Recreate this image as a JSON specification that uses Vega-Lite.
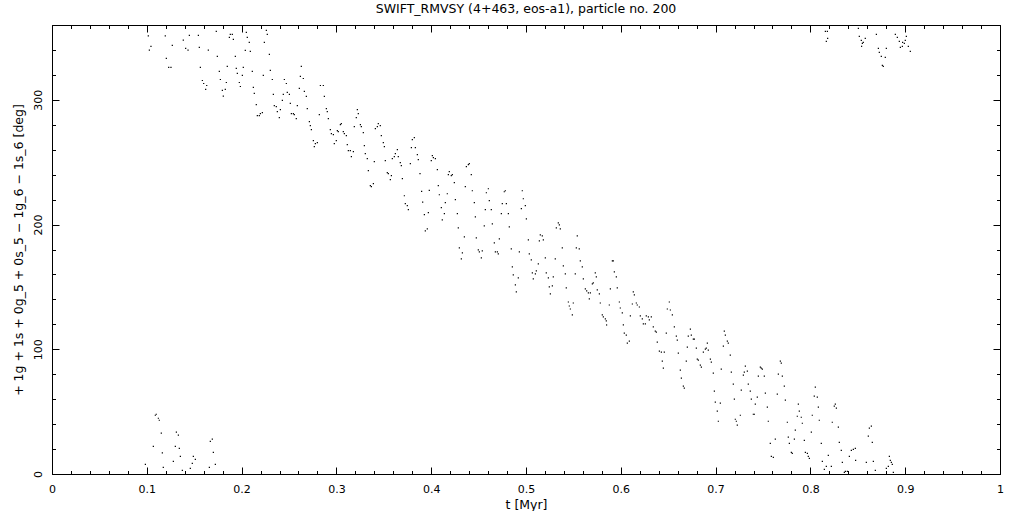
{
  "$schema": "https://vega.github.io/schema/vega-lite/v6.json",
  "autosize": {"type": "none"},
  "padding": {"left": 52, "top": 25, "right": 21, "bottom": 37},
  "width": 948,
  "height": 449,
  "background": "white",
  "title": {"text": "SWIFT_RMVSY (4+463, eos-a1), particle no. 200", "anchor": "middle", "offset": 9, "font": "DejaVu Sans", "fontSize": 12.5, "fontWeight": "normal", "color": "black"},
  "config": {
    "view": {"stroke": "black", "strokeWidth": 1},
    "axis": {"grid": false, "domainColor": "black", "tickColor": "black", "labelColor": "black", "titleColor": "black", "labelFont": "DejaVu Sans", "titleFont": "DejaVu Sans", "labelFontSize": 11, "titleFontSize": 12.5, "titleFontWeight": "normal", "labelFlush": false, "labelOverlap": false, "labelBound": false}
  },
  "data": {"values": [
    {"t":0.1016,"v":351.2},{"t":0.1044,"v":342.9},{"t":0.1027,"v":339.9},{"t":0.1195,"v":351.2},{"t":0.1206,"v":333.2},{"t":0.1231,"v":326.0},{"t":0.1255,"v":326.0},{"t":0.1269,"v":343.7},{"t":0.1385,"v":347.9},{"t":0.1410,"v":341.2},{"t":0.1435,"v":339.9},{"t":0.1449,"v":351.7},{"t":0.1544,"v":351.7},{"t":0.1554,"v":342.1},{"t":0.1565,"v":326.0},{"t":0.1586,"v":315.5},{"t":0.1600,"v":313.1},{"t":0.1621,"v":308.3},{"t":0.1632,"v":311.5},{"t":0.1649,"v":339.9},{"t":0.1733,"v":354.9},{"t":0.1744,"v":334.8},{"t":0.1765,"v":322.8},{"t":0.1776,"v":316.3},{"t":0.1797,"v":307.5},{"t":0.1807,"v":302.9},{"t":0.1828,"v":308.3},{"t":0.1839,"v":313.9},{"t":0.1849,"v":326.8},{"t":0.1871,"v":350.1},{"t":0.1881,"v":352.5},{"t":0.1902,"v":352.5},{"t":0.1913,"v":348.5},{"t":0.1934,"v":334.8},{"t":0.1944,"v":325.2},{"t":0.1955,"v":321.2},{"t":0.1976,"v":313.9},{"t":0.1987,"v":310.7},{"t":0.2008,"v":319.6},{"t":0.2018,"v":326.0},{"t":0.2050,"v":354.1},{"t":0.2060,"v":350.1},{"t":0.2081,"v":346.1},{"t":0.2039,"v":339.6},{"t":0.2092,"v":338.8},{"t":0.2113,"v":322.8},{"t":0.2124,"v":309.9},{"t":0.2134,"v":305.1},
    {"t":0.1090,"v":47.1},{"t":0.1100,"v":47.9},{"t":0.1122,"v":44.7},{"t":0.1132,"v":43.1},{"t":0.1153,"v":32.7},{"t":0.1069,"v":22.2},{"t":0.1164,"v":16.9},{"t":0.0985,"v":7.8},{"t":0.1174,"v":5.4},{"t":0.1312,"v":33.5},{"t":0.1333,"v":31.1},{"t":0.1301,"v":22.2},{"t":0.1343,"v":20.6},{"t":0.1280,"v":10.2},{"t":0.1354,"v":14.2},{"t":0.1375,"v":2.9},{"t":0.1459,"v":4.6},{"t":0.1480,"v":8.6},{"t":0.1491,"v":14.2},{"t":0.1512,"v":11.8},{"t":0.1670,"v":26.2},{"t":0.1691,"v":27.9},{"t":0.1702,"v":17.4},{"t":0.1660,"v":5.4},{"t":0.1723,"v":7.8},
    {"t":0.2261,"v":355.7},{"t":0.2271,"v":352.5},{"t":0.2240,"v":346.1},{"t":0.2293,"v":336.4},{"t":0.2303,"v":323.6},{"t":0.2229,"v":319.6},{"t":0.2324,"v":316.3},{"t":0.2335,"v":304.3},{"t":0.2155,"v":296.2},{"t":0.2166,"v":287.4},{"t":0.2187,"v":287.4},{"t":0.2198,"v":289.0},{"t":0.2219,"v":289.8},{"t":0.2345,"v":295.4},{"t":0.2366,"v":294.6},{"t":0.2377,"v":290.6},{"t":0.2409,"v":292.2},{"t":0.2398,"v":285.8},{"t":0.2430,"v":299.5},{"t":0.2440,"v":304.3},{"t":0.2451,"v":316.3},{"t":0.2472,"v":313.1},{"t":0.2482,"v":305.9},{"t":0.2504,"v":304.3},{"t":0.2514,"v":297.1},{"t":0.2525,"v":289.0},{"t":0.2546,"v":289.0},{"t":0.2556,"v":288.2},{"t":0.2577,"v":285.0},{"t":0.2588,"v":295.4},{"t":0.2609,"v":309.1},{"t":0.2620,"v":318.8},{"t":0.2630,"v":326.8},{"t":0.2651,"v":317.1},{"t":0.2662,"v":306.7},{"t":0.2683,"v":302.7},{"t":0.2693,"v":293.0},{"t":0.2715,"v":282.6},{"t":0.2725,"v":279.4},{"t":0.2736,"v":276.2},{"t":0.2757,"v":267.3},{"t":0.2767,"v":262.5},{"t":0.2778,"v":264.9},{"t":0.2799,"v":265.7},{"t":0.2820,"v":288.2},{"t":0.2831,"v":311.5},{"t":0.2862,"v":311.5},{"t":0.2873,"v":302.7},{"t":0.2894,"v":293.0},{"t":0.2904,"v":290.6},{"t":0.2915,"v":285.0},{"t":0.2936,"v":276.2},{"t":0.2947,"v":272.9},{"t":0.2968,"v":272.1},{"t":0.2978,"v":264.9},{"t":0.2999,"v":267.3},{"t":0.3010,"v":275.4},{"t":0.3020,"v":274.6},{"t":0.3042,"v":280.2},{"t":0.3052,"v":281.0},{"t":0.3073,"v":274.6},{"t":0.3084,"v":272.9},{"t":0.3105,"v":271.3},{"t":0.3115,"v":264.1},{"t":0.3126,"v":259.3},{"t":0.3147,"v":259.3},{"t":0.3158,"v":254.5},{"t":0.3179,"v":258.5},{"t":0.3189,"v":278.6},{"t":0.3210,"v":285.8},{"t":0.3221,"v":292.2},{"t":0.3231,"v":289.0},{"t":0.3253,"v":280.2},{"t":0.3263,"v":278.6},{"t":0.3284,"v":273.7},{"t":0.3295,"v":263.3},{"t":0.3305,"v":256.9},{"t":0.3326,"v":252.9},{"t":0.3337,"v":243.2},{"t":0.3358,"v":231.2},{"t":0.3369,"v":230.4},{"t":0.3390,"v":232.8},{"t":0.3400,"v":250.4},{"t":0.3411,"v":277.0},{"t":0.3432,"v":278.6},{"t":0.3442,"v":281.0},{"t":0.3463,"v":279.4},{"t":0.3474,"v":271.3},{"t":0.3495,"v":265.7},{"t":0.3506,"v":262.5},{"t":0.3516,"v":251.2},{"t":0.3537,"v":241.6},{"t":0.3548,"v":240.8},{"t":0.3569,"v":236.0},{"t":0.3580,"v":239.2},{"t":0.3590,"v":252.9},{"t":0.3611,"v":254.5},{"t":0.3622,"v":256.9},{"t":0.3643,"v":260.1},{"t":0.3653,"v":254.5},{"t":0.3674,"v":249.6},{"t":0.3685,"v":247.2},{"t":0.3696,"v":236.8},{"t":0.3717,"v":223.1},{"t":0.3727,"v":216.7},{"t":0.3748,"v":215.1},{"t":0.3759,"v":211.9},{"t":0.3780,"v":248.8},{"t":0.3791,"v":261.7},{"t":0.3801,"v":268.1},{"t":0.3822,"v":269.7},{"t":0.3833,"v":261.7},{"t":0.3854,"v":256.1},{"t":0.3864,"v":252.1},
    {"t":0.3882,"v":240.8},{"t":0.3899,"v":226.6},{"t":0.3910,"v":218.0},{"t":0.3928,"v":207.9},{"t":0.3938,"v":195.0},{"t":0.3959,"v":196.6},{"t":0.3970,"v":209.5},{"t":0.3980,"v":227.4},{"t":0.4001,"v":251.2},{"t":0.4012,"v":255.3},{"t":0.4023,"v":253.7},{"t":0.4044,"v":252.9},{"t":0.4065,"v":244.0},{"t":0.4075,"v":231.2},{"t":0.4086,"v":223.9},{"t":0.4107,"v":213.5},{"t":0.4117,"v":203.8},{"t":0.4139,"v":208.7},{"t":0.4149,"v":217.5},{"t":0.4170,"v":224.7},{"t":0.4181,"v":240.0},{"t":0.4191,"v":242.4},{"t":0.4212,"v":239.2},{"t":0.4223,"v":240.0},{"t":0.4244,"v":233.6},{"t":0.4255,"v":219.9},{"t":0.4276,"v":208.7},{"t":0.4286,"v":197.4},{"t":0.4297,"v":181.3},{"t":0.4318,"v":172.5},{"t":0.4329,"v":177.3},{"t":0.4350,"v":190.2},{"t":0.4360,"v":230.4},{"t":0.4371,"v":246.4},{"t":0.4392,"v":248.0},{"t":0.4402,"v":248.8},{"t":0.4423,"v":240.0},{"t":0.4434,"v":227.1},{"t":0.4455,"v":217.5},{"t":0.4466,"v":206.2},{"t":0.4476,"v":189.4},{"t":0.4497,"v":179.7},{"t":0.4508,"v":178.1},{"t":0.4529,"v":173.3},{"t":0.4539,"v":178.9},{"t":0.4560,"v":199.0},{"t":0.4571,"v":211.9},{"t":0.4582,"v":225.5},{"t":0.4603,"v":228.7},{"t":0.4613,"v":219.1},{"t":0.4634,"v":211.9},{"t":0.4645,"v":200.6},{"t":0.4666,"v":185.4},{"t":0.4677,"v":178.1},{"t":0.4698,"v":178.1},{"t":0.4708,"v":176.5},{"t":0.4719,"v":188.6},{"t":0.4740,"v":208.7},{"t":0.4750,"v":216.7},{"t":0.4771,"v":226.3},{"t":0.4782,"v":227.1},{"t":0.4793,"v":216.7},{"t":0.4814,"v":208.7},{"t":0.4824,"v":198.2},{"t":0.4845,"v":180.5},{"t":0.4856,"v":166.1},{"t":0.4866,"v":159.6},{"t":0.4888,"v":151.6},{"t":0.4898,"v":146.0},{"t":0.4919,"v":157.2},{"t":0.4930,"v":178.1},{"t":0.4951,"v":212.7},{"t":0.4961,"v":227.1},{"t":0.4972,"v":220.7},{"t":0.4993,"v":215.1},{"t":0.5004,"v":204.6},{"t":0.5025,"v":187.8},{"t":0.5035,"v":176.5},{"t":0.5056,"v":171.7},{"t":0.5067,"v":161.2},{"t":0.5077,"v":156.4},{"t":0.5099,"v":160.4},{"t":0.5109,"v":162.9},{"t":0.5130,"v":168.5},{"t":0.5141,"v":187.0},{"t":0.5151,"v":191.8},{"t":0.5172,"v":191.0},{"t":0.5183,"v":187.8},{"t":0.5204,"v":173.3},{"t":0.5214,"v":161.2},{"t":0.5236,"v":157.2},{"t":0.5246,"v":150.0},{"t":0.5257,"v":144.4},{"t":0.5278,"v":150.8},{"t":0.5288,"v":158.0},{"t":0.5309,"v":172.5},{"t":0.5320,"v":197.4},{"t":0.5341,"v":201.4},{"t":0.5352,"v":199.8},{"t":0.5362,"v":196.6},{"t":0.5383,"v":181.3},{"t":0.5394,"v":166.9},{"t":0.5415,"v":160.4},{"t":0.5425,"v":149.2},{"t":0.5447,"v":137.9},{"t":0.5457,"v":134.7},{"t":0.5468,"v":132.3},{"t":0.5489,"v":127.5},{"t":0.5499,"v":137.1},{"t":0.5520,"v":160.4},{"t":0.5531,"v":181.3},{"t":0.5541,"v":191.0},{"t":0.5562,"v":180.5},{"t":0.5573,"v":170.9},{"t":0.5594,"v":166.1},{"t":0.5605,"v":156.4},
    {"t":0.5626,"v":148.4},{"t":0.5640,"v":146.8},{"t":0.5658,"v":145.2},{"t":0.5668,"v":140.4},{"t":0.5679,"v":145.2},{"t":0.5700,"v":152.4},{"t":0.5710,"v":153.2},{"t":0.5731,"v":161.2},{"t":0.5742,"v":158.0},{"t":0.5752,"v":147.6},{"t":0.5774,"v":144.4},{"t":0.5784,"v":137.1},{"t":0.5805,"v":127.5},{"t":0.5816,"v":125.9},{"t":0.5837,"v":124.3},{"t":0.5847,"v":122.7},{"t":0.5850,"v":119.5},{"t":0.5879,"v":135.5},{"t":0.5890,"v":148.4},{"t":0.5911,"v":170.9},{"t":0.5921,"v":170.9},{"t":0.5932,"v":162.1},{"t":0.5953,"v":158.0},{"t":0.5963,"v":149.2},{"t":0.5985,"v":137.9},{"t":0.5995,"v":133.1},{"t":0.6016,"v":129.1},{"t":0.6027,"v":119.5},{"t":0.6037,"v":113.0},{"t":0.6058,"v":111.4},{"t":0.6069,"v":105.0},{"t":0.6090,"v":106.6},{"t":0.6101,"v":126.7},{"t":0.6122,"v":136.3},{"t":0.6132,"v":146.0},{"t":0.6143,"v":143.6},{"t":0.6164,"v":137.1},{"t":0.6174,"v":135.5},{"t":0.6196,"v":133.9},{"t":0.6206,"v":126.7},{"t":0.6227,"v":124.3},{"t":0.6238,"v":120.3},{"t":0.6259,"v":120.3},{"t":0.6269,"v":126.7},{"t":0.6291,"v":125.9},{"t":0.6301,"v":123.5},{"t":0.6322,"v":125.9},{"t":0.6343,"v":117.9},{"t":0.6364,"v":114.6},{"t":0.6375,"v":113.8},{"t":0.6385,"v":105.8},{"t":0.6407,"v":98.6},{"t":0.6428,"v":97.8},{"t":0.6438,"v":90.5},{"t":0.6449,"v":84.9},{"t":0.6459,"v":97.8},{"t":0.6480,"v":113.0},{"t":0.6491,"v":132.3},{"t":0.6512,"v":137.9},{"t":0.6523,"v":131.5},{"t":0.6544,"v":127.5},{"t":0.6565,"v":117.9},{"t":0.6586,"v":110.6},{"t":0.6596,"v":107.4},{"t":0.6607,"v":97.0},{"t":0.6628,"v":83.3},{"t":0.6639,"v":76.9},{"t":0.6660,"v":70.4},{"t":0.6670,"v":68.8},{"t":0.6691,"v":90.5},{"t":0.6702,"v":101.8},{"t":0.6712,"v":110.6},{"t":0.6734,"v":116.2},{"t":0.6744,"v":111.4},{"t":0.6765,"v":108.2},{"t":0.6776,"v":108.2},{"t":0.6797,"v":101.0},{"t":0.6807,"v":92.1},{"t":0.6818,"v":91.3},{"t":0.6839,"v":87.3},{"t":0.6850,"v":85.7},{"t":0.6871,"v":97.8},{"t":0.6892,"v":100.2},{"t":0.6902,"v":101.0},{"t":0.6913,"v":105.0},{"t":0.6923,"v":99.4},{"t":0.6945,"v":92.1},{"t":0.6955,"v":89.7},{"t":0.6976,"v":80.9},{"t":0.6987,"v":66.4},{"t":0.6997,"v":57.6},{"t":0.7018,"v":50.4},{"t":0.7029,"v":42.3},{"t":0.7050,"v":56.8},{"t":0.7060,"v":84.1},{"t":0.7082,"v":102.6},{"t":0.7092,"v":114.6},{"t":0.7103,"v":111.4},{"t":0.7124,"v":106.6},{"t":0.7134,"v":105.0},{"t":0.7155,"v":95.4},{"t":0.7166,"v":81.7},{"t":0.7187,"v":72.0},{"t":0.7198,"v":60.0},{"t":0.7208,"v":43.9},{"t":0.7219,"v":42.3},{"t":0.7229,"v":39.1},{"t":0.7261,"v":47.1},{"t":0.7271,"v":67.2},{"t":0.7293,"v":79.3},{"t":0.7303,"v":81.7},{"t":0.7314,"v":86.5},{"t":0.7335,"v":82.5},{"t":0.7345,"v":72.0},
    {"t":0.8158,"v":354.9},{"t":0.8179,"v":354.9},{"t":0.8182,"v":349.3},{"t":0.8168,"v":346.9},{"t":0.8506,"v":357.3},{"t":0.8516,"v":350.9},{"t":0.8537,"v":347.7},{"t":0.8548,"v":345.3},{"t":0.8558,"v":346.1},{"t":0.8540,"v":342.9},{"t":0.8579,"v":349.3},{"t":0.8696,"v":352.5},{"t":0.8717,"v":341.2},{"t":0.8727,"v":338.0},{"t":0.8748,"v":334.8},{"t":0.8790,"v":334.0},{"t":0.8759,"v":327.6},{"t":0.8769,"v":326.8},{"t":0.8801,"v":341.2},{"t":0.8896,"v":352.5},{"t":0.8917,"v":350.1},{"t":0.8938,"v":346.9},{"t":0.8949,"v":342.1},{"t":0.8970,"v":342.9},{"t":0.8991,"v":345.3},{"t":0.9001,"v":347.7},{"t":0.9012,"v":350.9},{"t":0.9033,"v":342.9},{"t":0.9054,"v":338.8},{"t":0.8973,"v":346.1},
    {"t":0.7366,"v":66.4},{"t":0.7377,"v":60.0},{"t":0.7398,"v":47.9},{"t":0.7409,"v":47.9},{"t":0.7419,"v":56.0},{"t":0.7440,"v":61.6},{"t":0.7451,"v":78.5},{"t":0.7472,"v":85.7},{"t":0.7482,"v":84.9},{"t":0.7493,"v":84.1},{"t":0.7514,"v":78.5},{"t":0.7525,"v":64.8},{"t":0.7546,"v":53.6},{"t":0.7556,"v":42.3},{"t":0.7577,"v":24.6},{"t":0.7588,"v":14.2},{"t":0.7609,"v":13.4},{"t":0.7630,"v":27.9},{"t":0.7651,"v":64.0},{"t":0.7662,"v":80.1},{"t":0.7683,"v":90.5},{"t":0.7693,"v":88.9},{"t":0.7704,"v":78.5},{"t":0.7725,"v":70.4},{"t":0.7736,"v":59.2},{"t":0.7757,"v":41.5},{"t":0.7767,"v":29.5},{"t":0.7778,"v":24.6},{"t":0.7799,"v":17.4},{"t":0.7809,"v":16.6},{"t":0.7831,"v":27.9},{"t":0.7841,"v":35.1},{"t":0.7862,"v":46.3},{"t":0.7873,"v":56.0},{"t":0.7883,"v":50.4},{"t":0.7904,"v":45.5},{"t":0.7915,"v":40.7},{"t":0.7936,"v":27.0},{"t":0.7947,"v":17.4},{"t":0.7968,"v":16.6},{"t":0.7978,"v":14.2},{"t":0.7989,"v":12.6},{"t":0.8010,"v":33.5},{"t":0.8020,"v":47.1},{"t":0.8041,"v":62.4},{"t":0.8052,"v":69.6},{"t":0.8073,"v":61.6},{"t":0.8084,"v":53.6},{"t":0.8094,"v":43.1},{"t":0.8115,"v":24.6},{"t":0.8126,"v":10.2},{"t":0.8147,"v":3.7},{"t":0.8168,"v":6.2},{"t":0.8189,"v":15.0},{"t":0.8221,"v":6.2},{"t":0.8231,"v":41.5},{"t":0.8252,"v":54.4},{"t":0.8263,"v":56.0},{"t":0.8274,"v":52.8},{"t":0.8295,"v":37.5},{"t":0.8305,"v":25.4},{"t":0.8326,"v":19.0},{"t":0.8337,"v":9.4},{"t":0.8358,"v":1.3},{"t":0.8369,"v":2.1},{"t":0.8390,"v":2.1},{"t":0.8411,"v":14.2},{"t":0.8432,"v":19.0},{"t":0.8453,"v":19.8},{"t":0.8474,"v":20.6},{"t":0.8477,"v":11.0},{"t":0.8590,"v":9.4},{"t":0.8611,"v":30.3},{"t":0.8622,"v":36.7},{"t":0.8643,"v":38.3},{"t":0.8653,"v":25.4},{"t":0.8664,"v":10.2},{"t":0.8685,"v":2.9},{"t":0.8801,"v":4.6},{"t":0.8822,"v":6.2},{"t":0.8833,"v":14.2},{"t":0.8843,"v":11.0},{"t":0.8854,"v":9.4},{"t":0.8864,"v":7.8},{"t":0.8875,"v":1.3}
  ]},
  "layer": [
    {
      "mark": {"type": "point", "shape": "square", "filled": true, "size": 1.5, "color": "black", "opacity": 1},
      "encoding": {
        "x": {"field": "t", "type": "quantitative", "scale": {"domain": [0, 1], "nice": false, "zero": false},
          "axis": {"orient": "bottom", "values": [0, 0.1, 0.2, 0.3, 0.4, 0.5, 0.6, 0.7, 0.8, 0.9, 1], "format": "~g", "tickSize": -7, "labelPadding": 16, "title": "t [Myr]", "titlePadding": 4}},
        "y": {"field": "v", "type": "quantitative", "scale": {"domain": [0, 360], "nice": false, "zero": false},
          "axis": {"orient": "left", "values": [0, 100, 200, 300], "tickSize": -7, "labelAngle": 270, "labelPadding": 16, "title": "+ 1g + 1s + 0g_5 + 0s_5 − 1g_6 − 1s_6 [deg]", "titlePadding": 7}}
      }
    },
    {
      "mark": {"type": "point", "opacity": 0},
      "encoding": {
        "x": {"field": "t", "type": "quantitative", "axis": {"orient": "bottom", "values": [0.02, 0.04, 0.06, 0.08, 0.12, 0.14, 0.16, 0.18, 0.22, 0.24, 0.26, 0.28, 0.32, 0.34, 0.36, 0.38, 0.42, 0.44, 0.46, 0.48, 0.52, 0.54, 0.56, 0.58, 0.62, 0.64, 0.66, 0.68, 0.72, 0.74, 0.76, 0.78, 0.82, 0.84, 0.86, 0.88, 0.92, 0.94, 0.96, 0.98], "tickSize": -3.5, "labels": false, "title": null, "domain": false}},
        "y": {"field": "v", "type": "quantitative", "axis": {"orient": "left", "values": [20, 40, 60, 80, 120, 140, 160, 180, 220, 240, 260, 280, 320, 340], "tickSize": -3.5, "labels": false, "title": null, "domain": false}}
      }
    },
    {
      "mark": {"type": "point", "opacity": 0},
      "encoding": {
        "x": {"field": "t", "type": "quantitative", "axis": {"orient": "top", "values": [0, 0.1, 0.2, 0.3, 0.4, 0.5, 0.6, 0.7, 0.8, 0.9, 1], "tickSize": -7, "labels": false, "title": null}},
        "y": {"field": "v", "type": "quantitative", "axis": {"orient": "right", "values": [0, 100, 200, 300], "tickSize": -7, "labels": false, "title": null}}
      }
    },
    {
      "mark": {"type": "point", "opacity": 0},
      "encoding": {
        "x": {"field": "t", "type": "quantitative", "axis": {"orient": "top", "values": [0.02, 0.04, 0.06, 0.08, 0.12, 0.14, 0.16, 0.18, 0.22, 0.24, 0.26, 0.28, 0.32, 0.34, 0.36, 0.38, 0.42, 0.44, 0.46, 0.48, 0.52, 0.54, 0.56, 0.58, 0.62, 0.64, 0.66, 0.68, 0.72, 0.74, 0.76, 0.78, 0.82, 0.84, 0.86, 0.88, 0.92, 0.94, 0.96, 0.98], "tickSize": -3.5, "labels": false, "title": null, "domain": false}},
        "y": {"field": "v", "type": "quantitative", "axis": {"orient": "right", "values": [20, 40, 60, 80, 120, 140, 160, 180, 220, 240, 260, 280, 320, 340], "tickSize": -3.5, "labels": false, "title": null, "domain": false}}
      }
    }
  ],
  "resolve": {"axis": {"x": "independent", "y": "independent"}}
}
